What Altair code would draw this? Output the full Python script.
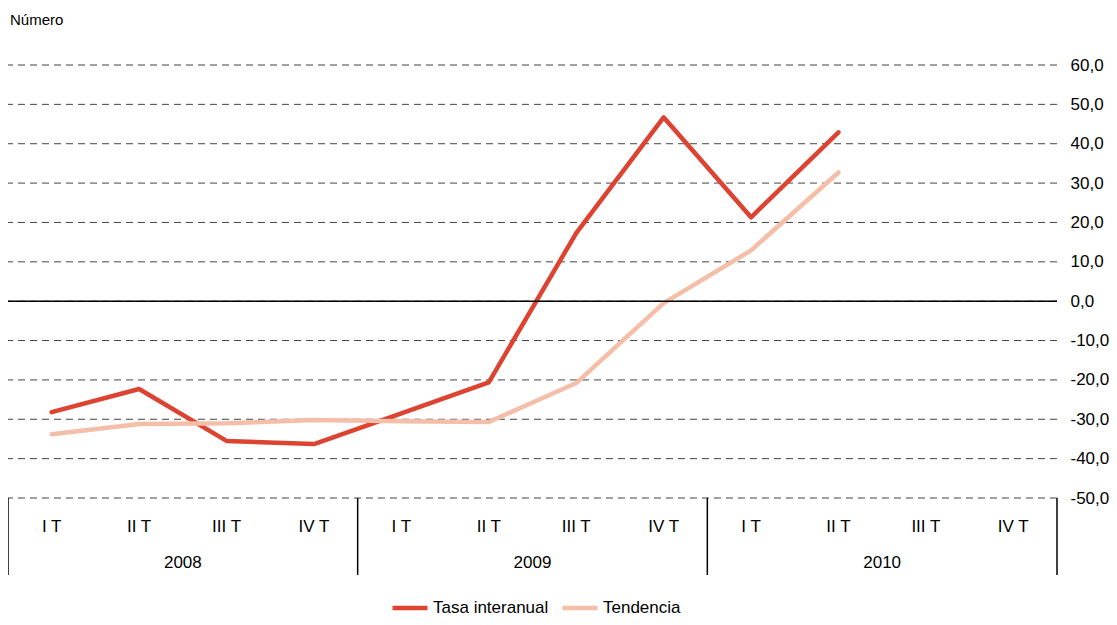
import altair as alt
import pandas as pd

quarters = ["I T", "II T", "III T", "IV T"] * 3
years = ["2008", "2009", "2010"]
tasa = [-28.2, -22.3, -35.5, -36.3, -28.5, -20.6, 17.3, 46.7, 21.3, 42.9]
tendencia = [-33.8, -31.2, -31.0, -30.2, -30.5, -30.7, -20.8, -0.5, 12.9, 32.7]
series_names = ["Tasa interanual", "Tendencia"]
colors = ["#DC4330", "#F4BEA8"]
y_ticks = [-50, -40, -30, -20, -10, 0, 10, 20, 30, 40, 50, 60]

rows = []
for name, vals in zip(series_names, [tasa, tendencia]):
    for i, v in enumerate(vals):
        rows.append({"idx": i, "valor": v, "serie": name})
df = pd.DataFrame(rows)

qdf = pd.DataFrame({"idx": list(range(len(quarters))), "label": quarters})
ydf = pd.DataFrame({"idx": [1.5, 5.5, 9.5], "label": years})
sepdf = pd.DataFrame({"idx": [-0.5, 3.5, 7.5, 11.5]})
zerodf = pd.DataFrame({"valor": [0]})
gdf = pd.DataFrame({"valor": y_ticks})

W, H = 1049, 433
FONT = "Liberation Sans"

xscale = alt.Scale(domain=[-0.5, 11.5], nice=False, zero=False)
yscale = alt.Scale(domain=[-50, 60], nice=False)

grid = alt.Chart(gdf).mark_rule(color="#444444", strokeWidth=1, strokeDash=[7, 5]).encode(
    y=alt.Y("valor:Q", scale=yscale, axis=alt.Axis(
        orient="right", values=y_ticks, grid=False, tickCount=12,
        domain=False, ticks=False, labelPadding=13, labelAlign="left",
        labelFontSize=17, labelFont=FONT, labelColor="#000000", title=None,
        labelOverlap=False, labelFlush=False, labelBound=False,
        labelExpr="(datum.value < 0 ? '-' : '') + replace(format(abs(datum.value), '.1f'), '.', ',')")),
)

lines = alt.Chart(df).mark_line(strokeWidth=4.5, strokeCap="round", strokeJoin="round").encode(
    x=alt.X("idx:Q", scale=xscale, axis=None),
    y=alt.Y("valor:Q", scale=yscale, axis=None),
    color=alt.Color("serie:N", scale=alt.Scale(domain=series_names, range=colors),
                    legend=alt.Legend(title=None, orient="none", legendX=382, legendY=523,
                                      direction="horizontal", symbolType="stroke",
                                      symbolSize=1225, symbolStrokeWidth=4.5,
                                      labelFontSize=17, labelFont=FONT, labelColor="#000000",
                                      labelOffset=3, columnPadding=4)),
    order="idx:Q",
)

zero = alt.Chart(zerodf).mark_rule(color="#000000", strokeWidth=1.5).encode(
    y=alt.Y("valor:Q", scale=yscale, axis=None))

seps = alt.Chart(sepdf).mark_rule(color="#000000", strokeWidth=1.5).encode(
    x=alt.X("idx:Q", scale=xscale, axis=None), y=alt.value(H), y2=alt.value(510))

qlabels = alt.Chart(qdf).mark_text(fontSize=17, font=FONT, color="#000000", baseline="middle").encode(
    x=alt.X("idx:Q", scale=xscale, axis=None), y=alt.value(462), text="label:N")

ylabels = alt.Chart(ydf).mark_text(fontSize=17, font=FONT, color="#000000", baseline="middle").encode(
    x=alt.X("idx:Q", scale=xscale, axis=None), y=alt.value(498), text="label:N")

ytitle = alt.Chart(zerodf).mark_text(fontSize=15, font=FONT, color="#000000", align="left",
                                    baseline="alphabetic").encode(
    x=alt.value(2), y=alt.value(-40), text=alt.value("Número"))

chart = alt.layer(grid, lines, zero, seps, qlabels, ylabels, ytitle).resolve_axis(
    y="independent", x="independent"
).properties(
    width=W, height=H,
    autosize=alt.AutoSizeParams(type="none"),
    padding={"left": 0, "top": 57, "right": 52, "bottom": 118},
    background="#ffffff",
).configure_view(stroke=None)

chart.save("out.html", embed_options={"renderer": "svg", "actions": False})
